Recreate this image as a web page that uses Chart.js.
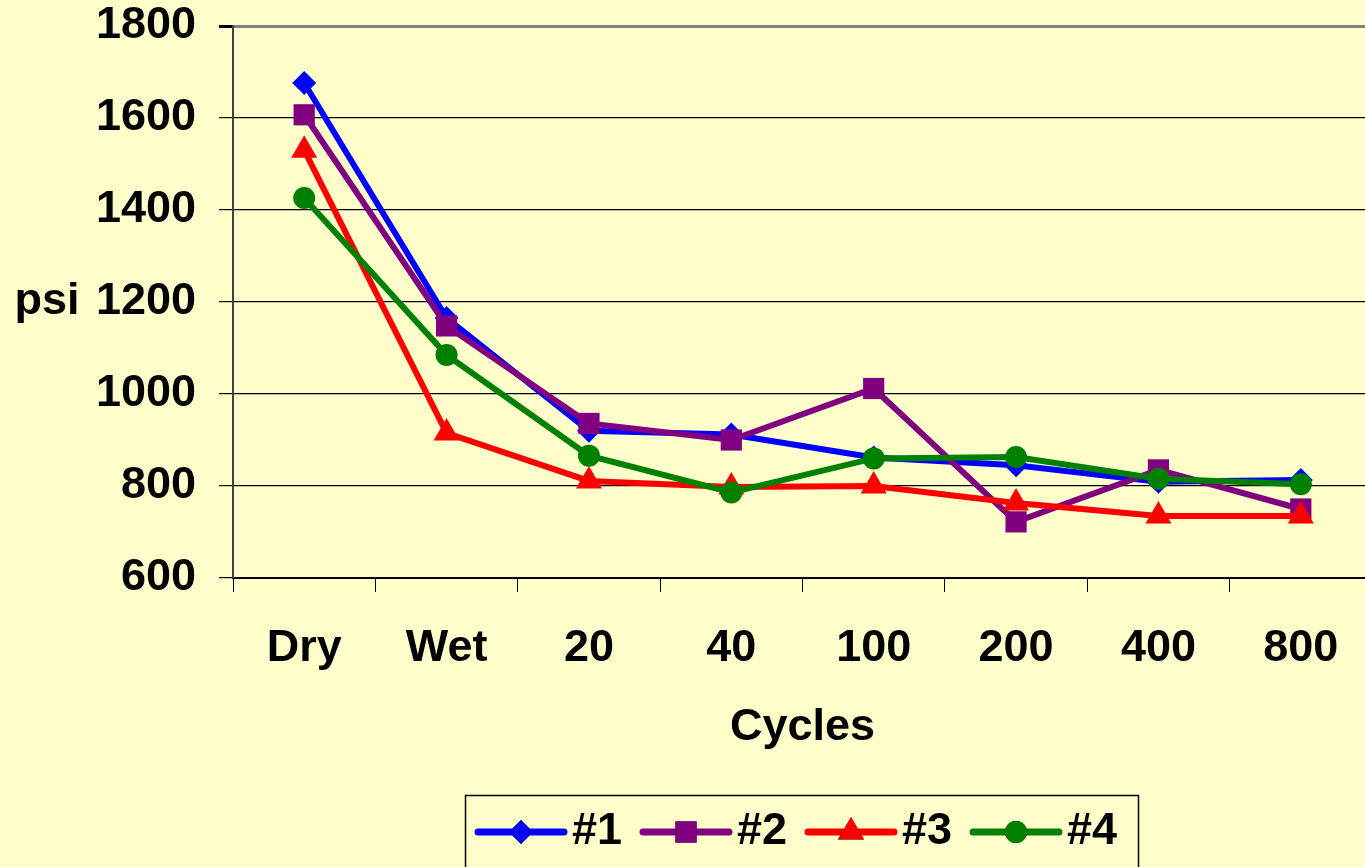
<!DOCTYPE html>
<html>
<head>
<meta charset="utf-8">
<script src="https://cdn.jsdelivr.net/npm/chart.js@4.4.1/dist/chart.umd.min.js"></script>
<style>
  html, body { margin: 0; padding: 0; background: #FFFFCC; overflow: hidden; }
  #wrap { width: 1380px; height: 867px; }
</style>
</head>
<body>
<div id="wrap"><canvas id="psiChart" width="1380" height="867"></canvas></div>
<script>
// categories and series (psi)
const cycles = ['Dry', 'Wet', '20', '40', '100', '200', '400', '800'];
const s1 = [1676, 1165, 920, 912, 862, 845, 809, 813];
const s2 = [1607, 1148, 936, 900, 1012, 722, 835, 750];
const s3 = [1530, 915, 811, 798, 800, 763, 735, 735];
const s4 = [1426, 1085, 866, 786, 860, 863, 816, 804];
const seriesNames = ['#1', '#2', '#3', '#4'];

const FONT = '"Liberation Sans", Arial, sans-serif';

function line(label, data, color, style, radius, order) {
  return {
    label: label,
    data: data,
    borderColor: color,
    backgroundColor: color,
    borderWidth: 6,
    pointStyle: style,
    pointRadius: radius,
    pointHoverRadius: radius,
    pointBorderWidth: 0,
    tension: 0,
    order: order
  };
}

// y axis caption, not rotated
const psiLabel = {
  id: 'psiLabel',
  afterDraw(chart) {
    const ctx = chart.ctx, a = chart.chartArea;
    ctx.save();
    ctx.font = 'bold 45px ' + FONT;
    ctx.fillStyle = '#000';
    ctx.textAlign = 'center';
    ctx.textBaseline = 'middle';
    ctx.fillText('psi', 47, (a.top + a.bottom) / 2);
    ctx.restore();
  }
};

// boxed legend with line + marker samples
const boxLegend = {
  id: 'boxLegend',
  afterDraw(chart) {
    const ctx = chart.ctx;
    ctx.save();
    ctx.strokeStyle = '#000';
    ctx.lineWidth = 1.5;
    ctx.strokeRect(465.5, 795.5, 673, 90);
    const starts = [478, 643, 808, 973];
    const y = 832;
    chart.data.datasets.forEach((ds, i) => {
      const x0 = starts[i];
      ctx.strokeStyle = ds.borderColor;
      ctx.lineWidth = 7;
      ctx.lineCap = 'round';
      ctx.beginPath();
      ctx.moveTo(x0, y);
      ctx.lineTo(x0 + 86, y);
      ctx.stroke();
      Chart.helpers.drawPoint(ctx, {
        pointStyle: ds.pointStyle,
        radius: ds.pointRadius,
        rotation: 0,
        borderWidth: 0
      }, x0 + 43, y);
      ctx.fillStyle = ds.borderColor;
      ctx.fill();
      ctx.fillStyle = '#000';
      ctx.font = 'bold 45px ' + FONT;
      ctx.textAlign = 'left';
      ctx.textBaseline = 'middle';
      ctx.fillText(ds.label, x0 + 94, y);
    });
    ctx.restore();
  }
};

new Chart(document.getElementById('psiChart').getContext('2d'), {
  type: 'line',
  data: {
    labels: cycles,
    datasets: [
      line(seriesNames[0], s1, '#0000FF', 'rectRot', 12, 4),
      line(seriesNames[1], s2, '#800080', 'rect', 15, 3),
      line(seriesNames[2], s3, '#FF0000', 'triangle', 15, 2),
      line(seriesNames[3], s4, '#008000', 'circle', 11, 1)
    ]
  },
  options: {
    responsive: false,
    animation: false,
    layout: { autoPadding: false, padding: { top: 26, left: 0, right: 8, bottom: 77 } },
    plugins: {
      legend: { display: false },
      tooltip: { enabled: false }
    },
    scales: {
      x: {
        offset: true,
        afterFit(axis) {
          axis.height = 212;
          axis.paddingLeft = 0;
          axis.paddingRight = 0;
        },
        grid: {
          offset: true,
          drawOnChartArea: false,
          drawTicks: true,
          tickLength: 14,
          color: '#000',
          lineWidth: 1
        },
        border: { display: true, color: '#000', width: 2 },
        ticks: {
          color: '#000',
          padding: 30,
          maxRotation: 0,
          font: { family: FONT, size: 45, weight: 'bold' }
        },
        title: {
          display: true,
          text: 'Cycles',
          color: '#000',
          font: { family: FONT, size: 45, weight: 'bold' },
          padding: { top: 0, bottom: 35 }
        }
      },
      y: {
        min: 600,
        max: 1800,
        afterFit(axis) {
          axis.width = 233;
          axis.paddingTop = 0;
          axis.paddingBottom = 0;
        },
        grid: {
          color: (c) => c.tick && c.tick.value === 1800 ? '#808080' : '#000',
          lineWidth: (c) => c.tick && c.tick.value === 1800 ? 3 : 1.2,
          tickColor: '#000',
          tickLength: 14,
          drawTicks: true
        },
        border: { display: true, color: '#404040', width: 2 },
        ticks: {
          stepSize: 200,
          color: '#000',
          padding: 23,
          callback: (v) => String(v),
          font: { family: FONT, size: 45, weight: 'bold' }
        }
      }
    }
  },
  plugins: [psiLabel, boxLegend]
});
</script>
</body>
</html>
